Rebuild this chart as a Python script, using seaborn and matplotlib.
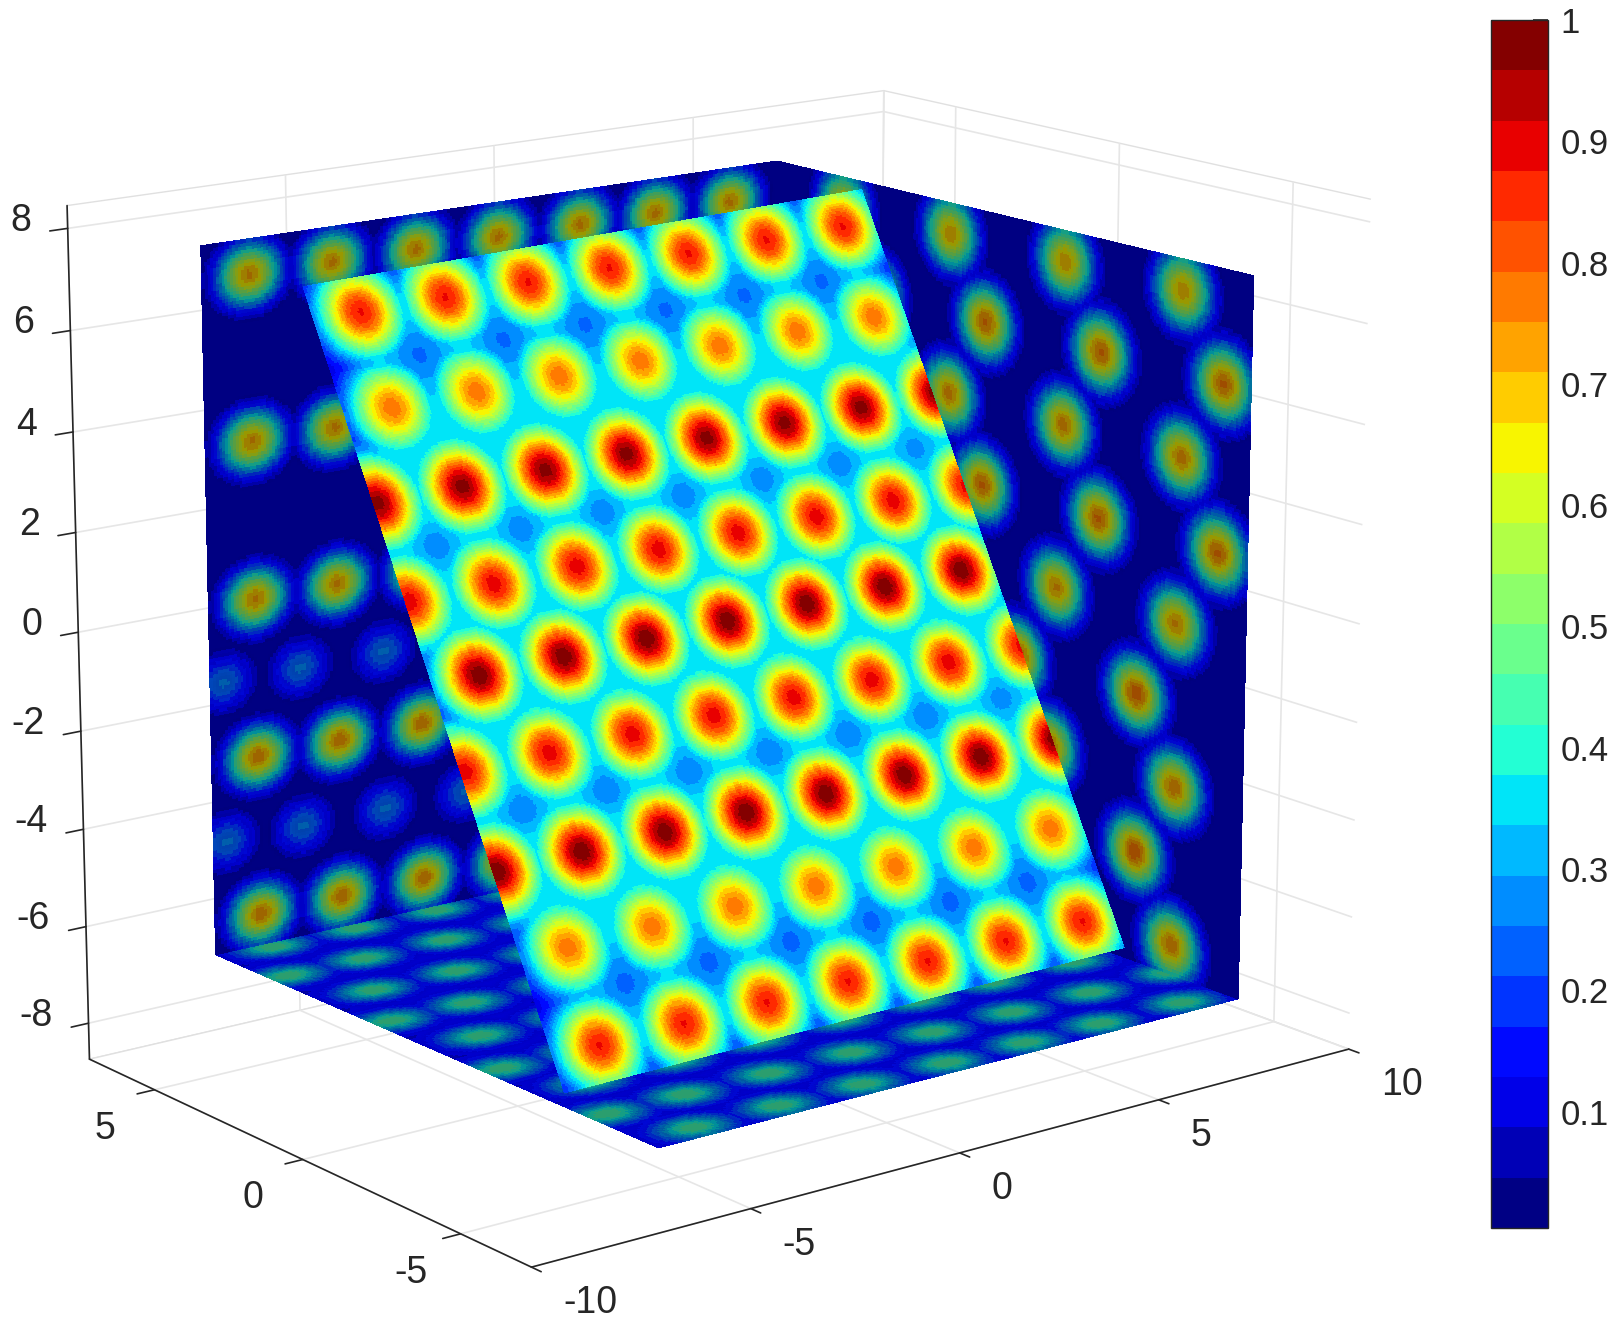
import numpy as np
import seaborn as sns
import matplotlib
matplotlib.use('Agg')
import matplotlib.pyplot as plt
from matplotlib.cm import ScalarMappable
from matplotlib.colors import ListedColormap, Normalize
from mpl_toolkits.mplot3d import proj3d

x_ticks = [-10, -5, 0, 5, 10]
y_ticks = [-5, 0, 5]
z_ticks = [-8, -6, -4, -2, 0, 2, 4, 6, 8]
bar_ticks = [0.1, 0.2, 0.3, 0.4, 0.5, 0.6, 0.7, 0.8, 0.9, 1]
bar_labels = ['0.1', '0.2', '0.3', '0.4', '0.5', '0.6', '0.7', '0.8', '0.9', '1']

# slice box and the tilted slice, data coordinates
box_x = [-6.737, 7.488]
box_y = [-6.639, 7.683]
box_z = [-7.325, 7.184]
tilt_top = [[-7.33, 3.38], [6.94, 4.29]]
tilt_bottom = [[-6.26, -3.17], [7.9, -2.86]]

# tilted slice: spot rows, fractions along and down the slice
tilt_rows = [0.041, 0.161, 0.27, 0.392, 0.495, 0.604, 0.727, 0.834, 0.955]
tilt_amp = [0.88, 0.78, 0.98, 0.9, 0.99, 0.9, 0.99, 0.78, 0.88]
cols_a = [0.076, 0.22, 0.364, 0.508, 0.652, 0.796, 0.94]
cols_b = [0.004, 0.147, 0.29, 0.433, 0.576, 0.719, 0.862, 1.003]
tilt_cols = [cols_a, cols_a, cols_b, cols_b, cols_a, cols_b, cols_b, cols_a, cols_a]

# left wall (y = box_y[1])
left_rows = [0.046, 0.278, 0.5, 0.61, 0.725, 0.838, 0.952]
left_amp = [0.8, 0.8, 0.8, 0.34, 0.82, 0.34, 0.82]
wall_a = [0.075, 0.213, 0.355, 0.497, 0.64, 0.775, 0.91]
wall_b = [0.02, 0.148, 0.29, 0.43, 0.57, 0.71, 0.85]
left_cols = [wall_a, wall_a, wall_a, wall_b, wall_a, wall_b, wall_a]

# right wall (x = box_x[1])
right_rows = [0.04, 0.153, 0.268, 0.385, 0.5, 0.615, 0.73, 0.84, 0.955]
right_amp = [0.78, 0.84, 0.81, 0.84, 0.8, 0.86, 0.82, 0.86, 0.82]
right_cols = [[0.15, 0.384, 0.625, 0.862], [0.22, 0.46, 0.7, 0.945], [0.14, 0.383, 0.625, 0.865],
              [0.21, 0.456, 0.7, 0.94], [0.13, 0.37, 0.615, 0.86], [0.28, 0.535, 0.783],
              [0.11, 0.355, 0.605, 0.862], [0.27, 0.525, 0.785], [0.11, 0.355, 0.605, 0.862]]

# floor (z = box_z[0]), spot rows in y and spots in x
floor_rows = [7.35, 5.65, 3.9, 2.15, 0.4, -1.4, -3.0, -4.65, -6.2]
floor_x_a = [-5.6, -3.6, -1.6, 0.45, 2.4, 4.3, 6.4]
floor_x_b = [-6.4, -4.6, -2.6, -0.6, 1.4, 3.4, 5.4, 7.5]
floor_cols = [floor_x_a, floor_x_b, floor_x_a, floor_x_b, floor_x_a, floor_x_b, floor_x_a, floor_x_b, floor_x_a]
floor_amp = [0.4] * 9

sns.set_theme(style='white')
plt.rcParams['font.family'] = ['Liberation Sans', 'DejaVu Sans']
plt.rcParams['axes.unicode_minus'] = False

jet_full = sns.mpl_palette('jet', 254)
jet_cmap = ListedColormap([jet_full[i] for i in np.linspace(0, 253, 24).round().astype(int)])
norm = Normalize(vmin=0.004, vmax=1)


def spots(a, b, rows, cols, amp, sa, sb):
    # one gaussian per spot
    out = []
    for r, cs, h in zip(rows, cols, amp):
        for c in cs:
            out.append(h * np.exp(-((a - c) / sa) ** 2 - ((b - r) / sb) ** 2))
    return np.array(out)


def wall_colors(f):
    shade = 1 - 0.38 * np.clip(f / 0.3, 0, 1)
    rgba = jet_cmap(norm(f))
    rgba[..., :3] *= shade[..., None]
    return rgba


fig = plt.figure(figsize=(16.24, 13.28), dpi=100)
ax = fig.add_axes([(812 - 109.4 - 664) / 1624, 10.384 / 1328, 1328 / 1624, 1], projection='3d')
ax.computed_zorder = False
ax.set_proj_type('persp', focal_length=0.913)
ax.view_init(14.983, -127.78)
ax.set_xlim(-10, 10)
ax.set_ylim(-7.141, 7.295)
ax.set_zlim(-8.749, 8.444)
ax.set_box_aspect((1, 0.736, 0.854), zoom=1.137)

# floor
a, b = np.meshgrid(np.linspace(0, 1, 200), np.linspace(0, 1, 200))
X = box_x[0] + a * (box_x[1] - box_x[0])
Y = box_y[0] + b * (box_y[1] - box_y[0])
f = spots(X, Y, floor_rows, floor_cols, floor_amp, 0.85, 0.62).max(axis=0) + 0.06
ax.plot_surface(X, Y, np.full_like(X, box_z[0]), facecolors=wall_colors(f), rstride=1, cstride=1,
                shade=False, linewidth=0, antialiased=False, zorder=1)

# left wall
a, b = np.meshgrid(np.linspace(0, 1, 220), np.linspace(0, 1, 220))
f = np.clip(spots(a, b, left_rows, left_cols, left_amp, 0.056, 0.046).max(axis=0) - 0.08, 0.012, None)
X = box_x[0] + a * (box_x[1] - box_x[0])
Z = box_z[1] + b * (box_z[0] - box_z[1])
ax.plot_surface(X, np.full_like(X, box_y[1]), Z, facecolors=wall_colors(f), rstride=1, cstride=1,
                shade=False, linewidth=0, antialiased=False, zorder=2)

# right wall
f = np.clip(spots(a, b, right_rows, right_cols, right_amp, 0.06, 0.056).max(axis=0) - 0.08, 0.012, None)
Y = box_y[1] + a * (box_y[0] - box_y[1])
ax.plot_surface(np.full_like(Y, box_x[1]), Y, Z, facecolors=wall_colors(f), rstride=1, cstride=1,
                shade=False, linewidth=0, antialiased=False, zorder=2)

# tilted slice
a, b = np.meshgrid(np.linspace(0, 1, 320), np.linspace(0, 1, 320))
g = spots(a, b, tilt_rows, tilt_cols, tilt_amp, 0.072, 0.06)
f = np.maximum(g.max(axis=0), np.minimum(0.55 * g.sum(axis=0), 0.36))
tl, tr = np.array(tilt_top)
bl, br = np.array(tilt_bottom)
X = (1 - b) * ((1 - a) * tl[0] + a * tr[0]) + b * ((1 - a) * bl[0] + a * br[0])
Y = (1 - b) * ((1 - a) * tl[1] + a * tr[1]) + b * ((1 - a) * bl[1] + a * br[1])
Z = box_z[1] + b * (box_z[0] - box_z[1])
ax.plot_surface(X, Y, Z, facecolors=jet_cmap(norm(f)), rstride=1, cstride=1,
                shade=False, linewidth=0, antialiased=False, zorder=3)

ax.set_xticks(x_ticks)
ax.set_yticks(y_ticks)
ax.set_zticks(z_ticks)
ax.set_xticklabels([''] * len(x_ticks))
ax.set_yticklabels([''] * len(y_ticks))
ax.set_zticklabels([''] * len(z_ticks))
for axis in (ax.xaxis, ax.yaxis, ax.zaxis):
    axis.set_pane_color((1, 1, 1, 1))
    axis.pane.set_edgecolor('#e0e0e0')
    axis.line.set_color('#262626')
    axis.line.set_linewidth(1.2)
    axis._axinfo['grid'].update(color='#e6e6e6', linewidth=1.2)
    axis._axinfo['tick'].update(inward_factor=0.25, outward_factor=0, linewidth={True: 1.2, False: 1.2})

# tick labels sit where MATLAB puts them, default 3d padding can't do that
M = ax.get_proj()
xlo, ylo, zlo = ax.get_xlim()[0], ax.get_ylim()[0], ax.get_zlim()[0]
yhi = ax.get_ylim()[1]


def tick_label(x, y, z, text, dx, dy, ha):
    u, v, _ = proj3d.proj_transform(x, y, z, M)
    ax.annotate(text, (u, v), xytext=(dx, dy), textcoords='offset points', ha=ha, va='center',
                fontsize=27, color='#262626', annotation_clip=False)


for t in x_ticks:
    tick_label(t, ylo, zlo, str(t), 23, -26, 'left')
for t in y_ticks:
    tick_label(xlo, t, zlo, str(t), -36, -28, 'center')
for t in z_ticks:
    tick_label(xlo, yhi, t, str(t), -26, 5.2, 'right')

cax = fig.add_axes([1491 / 1624, 1 - 1228 / 1328, 57 / 1624, 1208 / 1328])
bar = fig.colorbar(ScalarMappable(norm=norm, cmap=jet_cmap), cax=cax)
bar.set_ticks(bar_ticks, labels=bar_labels)
bar.ax.tick_params(direction='in', length=11, width=1.2, color='#262626', labelsize=25, labelcolor='#262626', pad=9, right=True)
bar.outline.set_edgecolor('#262626')
bar.outline.set_linewidth(1)

fig.savefig('out.png', dpi=100)
